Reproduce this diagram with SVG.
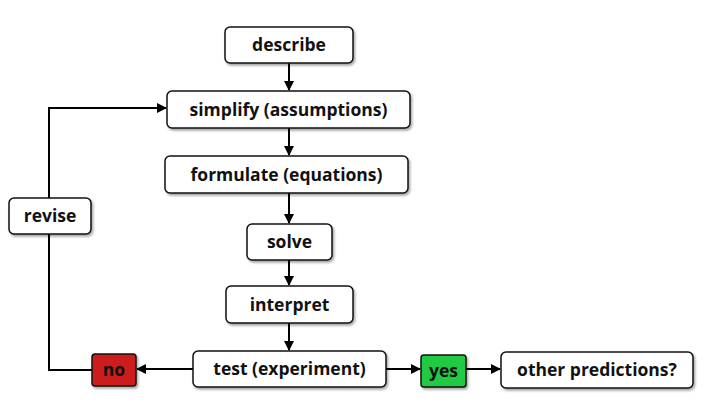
<svg xmlns="http://www.w3.org/2000/svg" width="716" height="413" viewBox="0 0 716 413">
<style>
.box{fill:#fff;stroke:#111;stroke-width:1.5;filter:url(#sh)}
.lbl{font-family:"Open Sans",Lato,sans-serif;font-weight:700;font-size:17.5px;fill:#111;text-anchor:middle;dominant-baseline:central}
.ln{fill:none;stroke:#000;stroke-width:2}
</style>
<defs>
<filter id="sh" x="-10%" y="-20%" width="130%" height="160%">
<feDropShadow dx="1.5" dy="2" stdDeviation="1.2" flood-color="#000" flood-opacity="0.35"/>
</filter>
<marker id="ar" markerWidth="10" markerHeight="10" refX="9" refY="5" orient="auto" markerUnits="userSpaceOnUse">
<path d="M0,0 L10,5 L0,10 Z" fill="#000"/>
</marker>
</defs>
<g id="connectors">
<path class="ln" d="M289,63 V90" marker-end="url(#ar)"/>
<path class="ln" d="M289,128 V155" marker-end="url(#ar)"/>
<path class="ln" d="M289,193 V223" marker-end="url(#ar)"/>
<path class="ln" d="M289,260 V285" marker-end="url(#ar)"/>
<path class="ln" d="M289,323 V350" marker-end="url(#ar)"/>
<path class="ln" d="M193,369 H137" marker-end="url(#ar)"/>
<path class="ln" d="M386,369 H420" marker-end="url(#ar)"/>
<path class="ln" d="M466,369 H500" marker-end="url(#ar)"/>
<path class="ln" d="M92,370 H49 V108 H166" marker-end="url(#ar)"/>
</g>
<g id="describe"><rect class="box" x="225" y="27" width="128" height="36" rx="5"/><text class="lbl" x="289" y="44">describe</text></g>
<g id="simplify"><rect class="box" x="167" y="91" width="243" height="37" rx="5"/><text class="lbl" x="288.5" y="108.5">simplify (assumptions)</text></g>
<g id="formulate"><rect class="box" x="165" y="156" width="243" height="37" rx="5"/><text class="lbl" x="286.5" y="173.5">formulate (equations)</text></g>
<g id="solve"><rect class="box" x="247" y="224" width="85" height="36" rx="5"/><text class="lbl" x="289.5" y="241">solve</text></g>
<g id="interpret"><rect class="box" x="226" y="286" width="127" height="37" rx="5"/><text class="lbl" x="289.5" y="303.5">interpret</text></g>
<g id="test"><rect class="box" x="193" y="351" width="193" height="36" rx="5"/><text class="lbl" x="289.5" y="368">test (experiment)</text></g>
<g id="no"><rect class="box" x="92" y="354" width="44" height="32" rx="3" style="fill:#cc1f1f"/><text class="lbl" x="114" y="369">no</text></g>
<g id="yes"><rect class="box" x="421" y="355" width="45" height="32" rx="3" style="fill:#22c942"/><text class="lbl" x="443.5" y="370">yes</text></g>
<g id="other"><rect class="box" x="501" y="352" width="192" height="36" rx="5"/><text class="lbl" x="597" y="369">other predictions?</text></g>
<g id="revise"><rect class="box" x="9" y="198" width="82" height="36" rx="5"/><text class="lbl" x="50" y="215">revise</text></g>
</svg>
